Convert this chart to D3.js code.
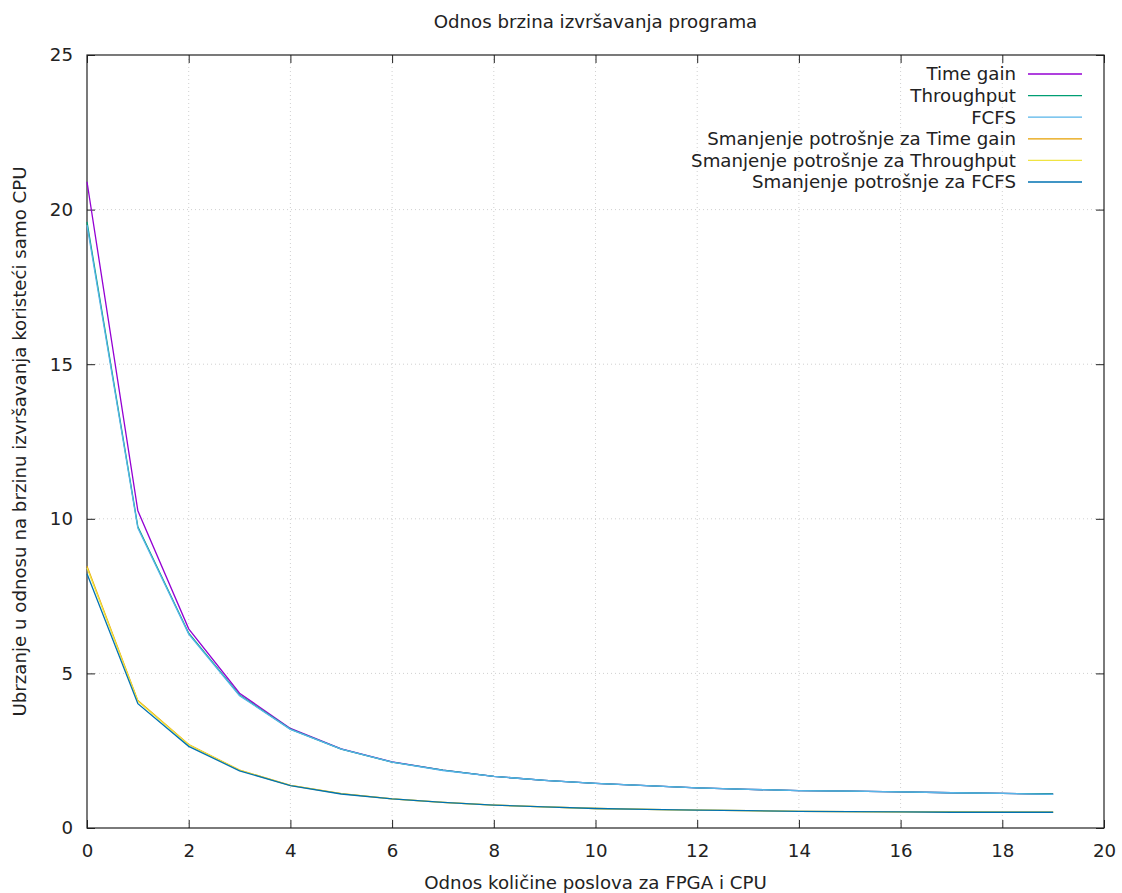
<!DOCTYPE html>
<html>
<head>
<meta charset="utf-8">
<script src="https://cdn.jsdelivr.net/npm/d3@7"></script>
<style>
  body { margin: 0; background: #fff; }
  svg text { font-family: "DejaVu Sans", sans-serif; fill: #222; }
</style>
</head>
<body>
<svg id="chart"></svg>
<script>
// chart data
const xValues = [0, 1, 2, 3, 4, 5, 6, 7, 8, 9, 10, 11, 12, 13, 14, 15, 16, 17, 18, 19];

const timeGain = [20.9, 10.26, 6.44, 4.36, 3.22, 2.56, 2.14, 1.87, 1.67, 1.54, 1.44, 1.37, 1.30, 1.25, 1.21, 1.19, 1.17, 1.14, 1.12, 1.10];
const throughput = [19.6, 9.74, 6.30, 4.30, 3.20, 2.55, 2.13, 1.87, 1.67, 1.54, 1.44, 1.37, 1.30, 1.25, 1.21, 1.19, 1.17, 1.14, 1.12, 1.10];
const fcfs = [19.5, 9.70, 6.27, 4.28, 3.19, 2.55, 2.13, 1.86, 1.67, 1.54, 1.44, 1.37, 1.30, 1.25, 1.21, 1.19, 1.17, 1.14, 1.12, 1.09];
const energyTimeGain = [8.47, 4.12, 2.70, 1.87, 1.38, 1.11, 0.94, 0.83, 0.74, 0.68, 0.63, 0.60, 0.58, 0.56, 0.54, 0.53, 0.52, 0.52, 0.51, 0.51];
const energyThroughput = [8.42, 4.10, 2.69, 1.87, 1.38, 1.11, 0.94, 0.83, 0.74, 0.68, 0.63, 0.60, 0.58, 0.56, 0.54, 0.53, 0.52, 0.52, 0.51, 0.51];
const energyFcfs = [8.22, 4.02, 2.64, 1.85, 1.37, 1.10, 0.94, 0.83, 0.74, 0.68, 0.63, 0.60, 0.58, 0.56, 0.54, 0.53, 0.52, 0.51, 0.51, 0.51];

const seriesNames = ["Time gain", "Throughput", "FCFS",
  "Smanjenje potrošnje za Time gain", "Smanjenje potrošnje za Throughput", "Smanjenje potrošnje za FCFS"];
const seriesValues = [timeGain, throughput, fcfs, energyTimeGain, energyThroughput, energyFcfs];
const seriesColors = ["#9400d3", "#009e73", "#56b4e9", "#e69f00", "#f0e442", "#0072b2"];

const xTicks = [0, 2, 4, 6, 8, 10, 12, 14, 16, 18, 20];
const yTicks = [0, 5, 10, 15, 20, 25];

const width = 1122;
const height = 893;
const margin = { top: 55, right: 18, bottom: 65, left: 87 };
const fontSize = 18.2;

const svg = d3.select("#chart")
    .attr("width", width)
    .attr("height", height);

const xScale = d3.scaleLinear()
    .domain([0, 20])
    .range([margin.left, width - margin.right]);

const yScale = d3.scaleLinear()
    .domain([0, 25])
    .range([height - margin.bottom, margin.top]);

const plotLeft = margin.left, plotRight = width - margin.right;
const plotTop = margin.top, plotBottom = height - margin.bottom;

// dotted grid
svg.append("g").selectAll("line").data(xTicks.slice(1, -1)).join("line")
    .attr("x1", d => xScale(d)).attr("x2", d => xScale(d))
    .attr("y1", plotTop).attr("y2", plotBottom)
    .attr("stroke", "#d0d0d0").attr("stroke-width", 1).attr("stroke-dasharray", "1,3");
svg.append("g").selectAll("line").data(yTicks.slice(1, -1)).join("line")
    .attr("x1", plotLeft).attr("x2", plotRight)
    .attr("y1", d => yScale(d)).attr("y2", d => yScale(d))
    .attr("stroke", "#d0d0d0").attr("stroke-width", 1).attr("stroke-dasharray", "1,3");

// axes, ticks pointing inward and mirrored (gnuplot style)
const tickLen = 8;
svg.append("g")
    .attr("transform", `translate(0, ${plotBottom})`)
    .call(d3.axisBottom(xScale).tickValues(xTicks).tickSizeInner(-tickLen).tickSizeOuter(0).tickPadding(tickLen + 8))
    .call(g => g.select(".domain").remove())
    .call(g => g.selectAll("text").attr("font-size", fontSize).attr("fill", "#222"))
    .call(g => g.selectAll("line").attr("stroke", "#222"));
svg.append("g")
    .attr("transform", `translate(0, ${plotTop})`)
    .call(d3.axisTop(xScale).tickValues(xTicks).tickSizeInner(-tickLen).tickSizeOuter(0).tickFormat(""))
    .call(g => g.select(".domain").remove())
    .call(g => g.selectAll("line").attr("stroke", "#222"));
svg.append("g")
    .attr("transform", `translate(${plotLeft}, 0)`)
    .call(d3.axisLeft(yScale).tickValues(yTicks).tickSizeInner(-tickLen).tickSizeOuter(0).tickPadding(tickLen + 6))
    .call(g => g.select(".domain").remove())
    .call(g => g.selectAll("text").attr("font-size", fontSize).attr("fill", "#222"))
    .call(g => g.selectAll("line").attr("stroke", "#222"));
svg.append("g")
    .attr("transform", `translate(${plotRight}, 0)`)
    .call(d3.axisRight(yScale).tickValues(yTicks).tickSizeInner(-tickLen).tickSizeOuter(0).tickFormat(""))
    .call(g => g.select(".domain").remove())
    .call(g => g.selectAll("line").attr("stroke", "#222"));

// frame
svg.append("rect")
    .attr("x", plotLeft).attr("y", plotTop)
    .attr("width", plotRight - plotLeft).attr("height", plotBottom - plotTop)
    .attr("fill", "none").attr("stroke", "#222").attr("stroke-width", 1.2);

// lines
const line = d3.line()
    .x((d, i) => xScale(xValues[i]))
    .y(d => yScale(d));

seriesValues.forEach((vals, k) => {
  svg.append("path")
      .datum(vals)
      .attr("d", line)
      .attr("fill", "none")
      .attr("stroke", seriesColors[k])
      .attr("stroke-width", 1.3);
});

// legend
const legend = svg.append("g");
seriesNames.forEach((name, k) => {
  const y = 74 + k * 21.6;
  legend.append("text")
      .attr("x", 1016).attr("y", y)
      .attr("dy", "0.35em")
      .attr("text-anchor", "end")
      .attr("font-size", fontSize)
      .text(name);
  legend.append("line")
      .attr("x1", 1028).attr("x2", 1082)
      .attr("y1", y).attr("y2", y)
      .attr("stroke", seriesColors[k])
      .attr("stroke-width", 1.3);
});

// titles
svg.append("text")
    .attr("x", (plotLeft + plotRight) / 2).attr("y", 28)
    .attr("text-anchor", "middle").attr("font-size", fontSize)
    .text("Odnos brzina izvršavanja programa");
svg.append("text")
    .attr("x", (plotLeft + plotRight) / 2).attr("y", 889)
    .attr("text-anchor", "middle").attr("font-size", fontSize)
    .text("Odnos količine poslova za FPGA i CPU");
svg.append("text")
    .attr("transform", `translate(26, ${(plotTop + plotBottom) / 2}) rotate(-90)`)
    .attr("text-anchor", "middle").attr("font-size", fontSize)
    .text("Ubrzanje u odnosu na brzinu izvršavanja koristeći samo CPU");
</script>
</body>
</html>
